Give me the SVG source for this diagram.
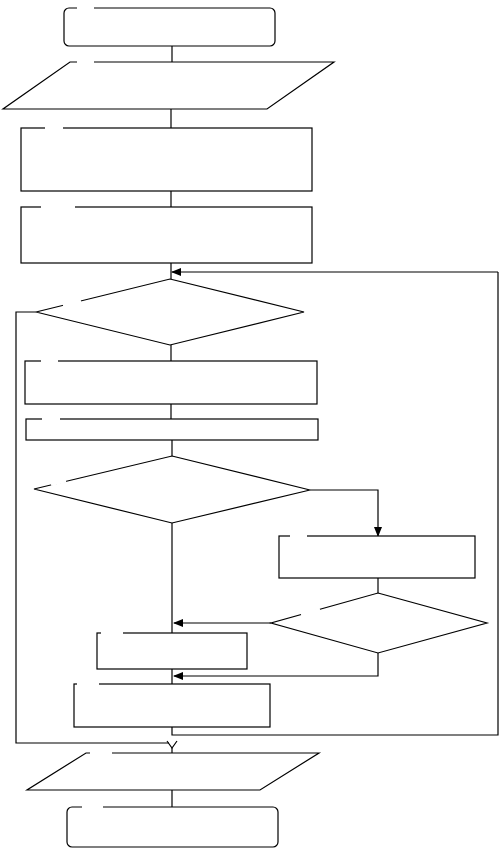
<svg xmlns="http://www.w3.org/2000/svg" width="501" height="849" viewBox="0 0 501 849">
<defs>
<style>
.s{fill:#fff;stroke:#000;stroke-width:1.2}
.c{fill:none;stroke:#000;stroke-width:1.2}
.g{fill:none;stroke:#fff;stroke-width:3}
</style>
<marker id="a" markerWidth="10" markerHeight="8" refX="9" refY="4" orient="auto" markerUnits="userSpaceOnUse">
<path d="M0,0 L10,4 L0,8 Z" fill="#000"/>
</marker>
</defs>
<rect width="501" height="849" fill="#fff"/>
<g id="connectors">
<path class="c" d="M172,46 V62"/>
<path class="c" d="M171,109 V128"/>
<path class="c" d="M171,191 V207"/>
<path class="c" d="M171,263 V279"/>
<path class="c" d="M498,272 H172" marker-end="url(#a)"/>
<path class="c" d="M171,345 V361"/>
<path class="c" d="M171,404 V419"/>
<path class="c" d="M172,440 V456"/>
<path class="c" d="M310,490 H378 V536" marker-end="url(#a)"/>
<path class="c" d="M172,523 V633"/>
<path class="c" d="M378,578 V593"/>
<path class="c" d="M271,623 H174" marker-end="url(#a)"/>
<path class="c" d="M378,653 V676 H174" marker-end="url(#a)"/>
<path class="c" d="M172,669 V684"/>
<path class="c" d="M172,727 V735 H498 V272"/>
<path class="c" d="M36,312 H16 V743 H169"/>
<path class="c" d="M167,741 L172,748 L177,741"/>
<path class="c" d="M172,748 V753"/>
<path class="c" d="M172,790 V807"/>
</g>
<g id="start"><rect class="s" x="64" y="8" width="211" height="38" rx="5"/><path class="g" d="M77,8 H94"/></g>
<g id="input"><polygon class="s" points="70,62 334,62 267,109 3,109"/><path class="g" d="M77,62 H94"/></g>
<g id="process1"><rect class="s" x="21" y="128" width="291" height="63"/><path class="g" d="M45,128 H63"/></g>
<g id="process2"><rect class="s" x="21" y="207" width="291" height="56"/><path class="g" d="M41,207 H75"/></g>
<g id="decision1"><polygon class="s" points="170,279 304,312 170,345 36,312"/><path class="g" d="M63,305.5 L81,301"/></g>
<g id="process3"><rect class="s" x="25" y="361" width="292" height="43"/><path class="g" d="M41,361 H58"/></g>
<g id="process4"><rect class="s" x="26" y="419" width="292" height="21"/><path class="g" d="M42,419 H60"/></g>
<g id="decision2"><polygon class="s" points="172,456 310,490 172,523 34,489"/><path class="g" d="M51,484.5 L66,481"/></g>
<g id="process5"><rect class="s" x="279" y="536" width="196" height="42"/><path class="g" d="M290,536 H307"/></g>
<g id="decision3"><polygon class="s" points="378,593 487,623 378,653 271,623"/><path class="g" d="M301,614.5 L320,609.5"/></g>
<g id="process6"><rect class="s" x="97" y="633" width="150" height="36"/><path class="g" d="M101,633 H123"/></g>
<g id="process7"><rect class="s" x="74" y="684" width="196" height="43"/><path class="g" d="M77,684 H99"/></g>
<g id="output"><polygon class="s" points="86,753 319,753 260,790 27,790"/><path class="g" d="M90,753 H112"/></g>
<g id="end"><rect class="s" x="67" y="807" width="211" height="40" rx="5"/><path class="g" d="M82,807 H103"/></g>
</svg>
